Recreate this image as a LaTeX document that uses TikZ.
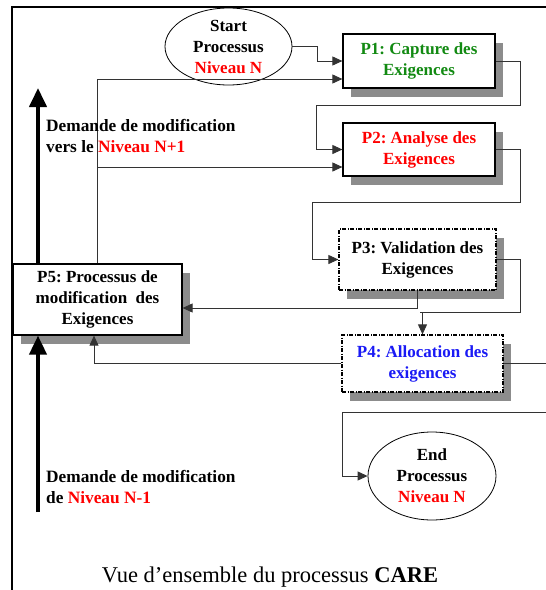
\documentclass[tikz,border=0pt]{standalone}
\usepackage{fontspec}
\setmainfont{Liberation Serif}
\usetikzlibrary{shapes.geometric, positioning, arrows.meta, calc, shadows}
\definecolor{careGreen}{HTML}{128A12}
\definecolor{careRed}{HTML}{FF0000}
\definecolor{careBlue}{HTML}{1A1AF5}
\definecolor{careShadow}{HTML}{8C8C8C}
\definecolor{careLine}{HTML}{333333}
\frenchspacing

\begin{document}
\begin{tikzpicture}[
    x=1pt, y=-1pt,
    process/.style={
        draw=black, line width=1.2pt, fill=white, inner sep=0pt,
        align=center, font=\fontsize{17}{21}\selectfont\bfseries,
        drop shadow={shadow xshift=8pt, shadow yshift=-9pt, fill=careShadow, opacity=1}
    },
    checkbox/.style={process, dash pattern=on 4pt off 1.5pt on 1pt off 1.5pt},
    terminal/.style={
        draw=black, line width=0.8pt, ellipse, fill=white, inner sep=0pt,
        align=center, font=\fontsize{17}{21}\selectfont\bfseries
    },
    flow/.style={-{Triangle[length=10pt,width=9pt]}, line width=0.9pt, draw=careLine},
    bigarrow/.style={-{Triangle[length=19pt,width=17pt]}, line width=4pt},
    note/.style={font=\fontsize{17.3}{21.5}\selectfont\bfseries, align=left, inner sep=0pt, anchor=north west},
]
\useasboundingbox (0,0) rectangle (546,590);
\clip (0,0) rectangle (546,590);

% Outer frame (cut at the right and bottom)
\draw[line width=1.3pt] (12,640) -- (12,7) -- (600,7);

% Start and end of the process
\node[terminal, minimum width=127pt, minimum height=77pt] (start) at (228.5,46.5) {Start\\Processus\\\textcolor{careRed}{Niveau N}};
\node[terminal, minimum width=128pt, minimum height=88pt] (endp) at (432,476) {End\\Processus\\\textcolor{careRed}{Niveau N}};

% Processes P1 .. P5
\node[process, text=careGreen, minimum width=152pt, minimum height=54pt] (p1) at (419,61) {P1: Capture des\\Exigences};
\node[process, text=careRed, minimum width=152pt, minimum height=53pt] (p2) at (419,149.5) {P2: Analyse des\\Exigences};
\node[checkbox, minimum width=157pt, minimum height=61pt] (p3) at (417.5,259.5) {P3: Validation des\\Exigences};
\node[checkbox, text=careBlue, minimum width=161pt, minimum height=57pt] (p4) at (422.5,363.5) {P4: Allocation des\\exigences};
\node[process, minimum width=169pt, minimum height=71pt] (p5) at (97.5,299.5) {P5: Processus de\\modification\ \ des\\Exigences};

% Flow between processes
\coordinate (p2in) at ($(p2.west)+(0,17.5)$);
\draw[flow] (start.east) -- ++(25,0) |- (p1.west);
\draw[flow] (p5.north) |- ($(p1.west)+(0,18)$);
\draw[flow] (p5.north |- p2in) -- (p2in);
\draw[flow] (p1.east) -- ++(25,0) |- ($(p1.south)!.5!(p2.north)$) -| ([xshift=-26pt]p2.west) -- (p2.west);
\draw[flow] (p2.east) -- ++(25,0) |- ($(p2.south)!.5!(p3.north)$) -| ([xshift=-26pt]p3.west) -- (p3.west);
\draw[flow] (p3.south) |- ([yshift=-8.5pt]p5.east);
\draw[flow] (p3.east) -- ++(24,0) |- ($(p3.south)!.5!(p4.north)$) -| (p4.north);
\draw[flow] (p4.west) -| ([xshift=-3.5pt]p5.south);
\draw[flow] (p4.east) -- ++(60,0) |- ($(p4.south)+(0,20)$) -| ([xshift=-25pt]endp.west) -- (endp.west);

% Requests from the levels above and below
\coordinate (upTip) at (38,88);
\coordinate (downTail) at (38,512);
\draw[bigarrow] (p5.north west -| upTip) -- (upTip);
\draw[bigarrow] (downTail) -- (p5.south west -| downTail);
\node[note] (upnote) at (46,119) {Demande de modification\\vers le \textcolor{careRed}{Niveau N+1}};
\node[note] (downnote) at (46,470) {Demande de modification\\de \textcolor{careRed}{Niveau N-1}};

% Caption
\node[font=\fontsize{22.5}{26}\selectfont, anchor=base, inner sep=0pt] (caption) at (270,582) {Vue d’ensemble du processus \textbf{CARE}};

\end{tikzpicture}
\end{document}
